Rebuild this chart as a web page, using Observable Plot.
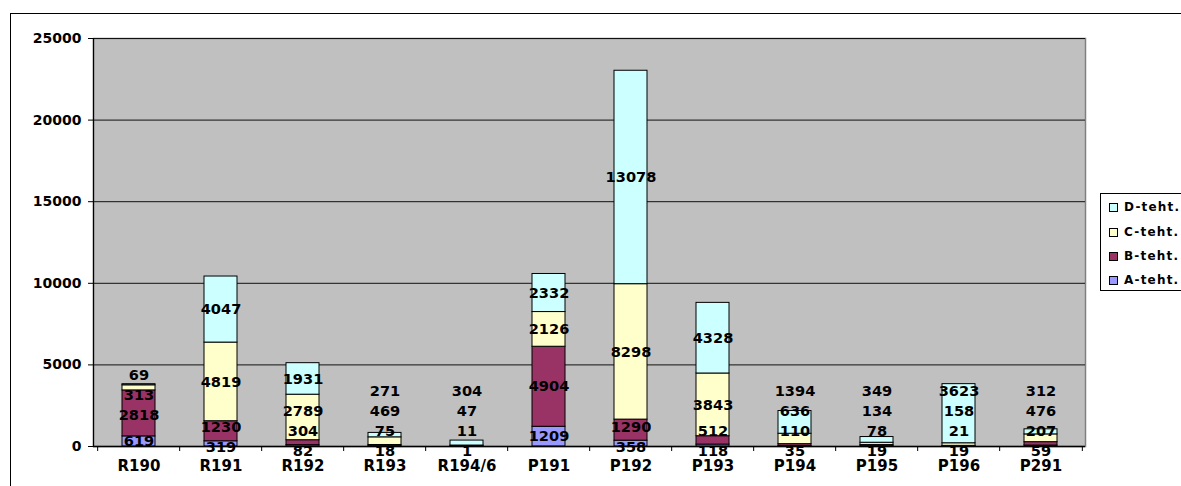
<!DOCTYPE html>
<html>
<head>
<meta charset="utf-8">
<script src="https://cdn.jsdelivr.net/npm/d3@7"></script>
<script src="https://cdn.jsdelivr.net/npm/@observablehq/plot@0.6"></script>
<style>
  html, body { margin: 0; padding: 0; background: #fff; overflow: hidden; width: 1181px; height: 486px; }
  #wrap { position: relative; width: 1181px; height: 486px; font-family: "DejaVu Sans", "Liberation Sans", Arial, sans-serif; }
  #border { position: absolute; left: 10px; top: 13px; width: 1220px; height: 540px; border: 1.5px solid #000; box-sizing: border-box; }
  #chart { position: absolute; left: 0; top: 0; }
  #legend { position: absolute; left: 1100px; top: 193px; width: 110px; height: 98px; border: 1px solid #000; background: #fff; box-sizing: border-box; }
  .item { position: absolute; left: 8px; height: 14px; display: flex; align-items: center; font-weight: bold; font-size: 12px; letter-spacing: 1.2px; color: #000; white-space: nowrap; }
  .sw { width: 7px; height: 7px; border: 1px solid #000; margin-right: 6px; flex: none; }
</style>
</head>
<body>
<div id="wrap">
  <div id="border"></div>
  <div id="chart"></div>
  <div id="legend"></div>
</div>
<script>
const categories = ["R190","R191","R192","R193","R194/6","P191","P192","P193","P194","P195","P196","P291"];
const seriesNames = ["A-teht.","B-teht.","C-teht.","D-teht."];
const seriesColors = ["#9999ff","#993366","#ffffcc","#ccffff"];
const aValues = [619, 319, 82, 18, 1, 1209, 358, 118, 35, 19, 19, 59];
const bValues = [2818, 1230, 304, 75, 11, 4904, 1290, 512, 110, 78, 21, 207];
const cValues = [313, 4819, 2789, 469, 47, 2126, 8298, 3843, 636, 134, 158, 476];
const dValues = [69, 4047, 1931, 271, 304, 2332, 13078, 4328, 1394, 349, 3623, 312];
const yTicks = [0, 5000, 10000, 15000, 20000, 25000];

const W = 1181, H = 486;
const mL = 93, mR = 96, mT = 38, mB = 40;
const yMax = 25000;
const seriesValues = [aValues, bValues, cValues, dValues];
const FONT = '"DejaVu Sans", "Liberation Sans", Arial, sans-serif';

// long table for bars
const rows = [];
categories.forEach((cat, i) => {
  seriesNames.forEach((s, j) => rows.push({cat, series: s, value: seriesValues[j][i]}));
});

// data labels: segment centers, then dodged apart so they don't overlap (like the moved Excel labels)
const pxPerUnit = (H - mT - mB) / yMax;
const gap = 20 / pxPerUnit;
const floor = -5 / pxPerUnit;
const labels = [];
categories.forEach((cat, i) => {
  let cum = 0;
  const centers = seriesValues.map(arr => { const v = arr[i]; const c = cum + v / 2; cum += v; return c; });
  const p = centers.slice();
  for (let it = 0; it < 200; it++) {
    for (let k = 0; k < p.length - 1; k++) {
      if (p[k + 1] - p[k] < gap) {
        const mid = (p[k] + p[k + 1]) / 2;
        p[k] = mid - gap / 2; p[k + 1] = mid + gap / 2;
      }
    }
    if (p[0] < floor) p[0] = floor;
  }
  for (let k = 0; k < p.length - 1; k++) if (p[k + 1] < p[k] + gap) p[k + 1] = p[k] + gap;
  seriesValues.forEach((arr, j) => labels.push({cat, value: arr[i], ly: p[j]}));
});

const step = (W - mL - mR) / categories.length;

const chart = Plot.plot({
  width: W, height: H,
  marginLeft: mL, marginRight: mR, marginTop: mT, marginBottom: mB,
  style: { fontFamily: FONT, background: "transparent", overflow: "visible", color: "#000" },
  x: { type: "band", domain: categories, paddingInner: 0.6, paddingOuter: 0.3, label: null },
  y: { domain: [0, yMax], label: null },
  color: { domain: seriesNames, range: seriesColors },
  marks: [
    Plot.frame({ fill: "#c0c0c0", stroke: "#808080", strokeWidth: 1.5 }),
    Plot.gridY({ ticks: yTicks.slice(1), stroke: "#111", strokeOpacity: 1, strokeWidth: 1 }),
    Plot.barY(rows, { x: "cat", y: "value", fill: "series", stroke: "#000", strokeWidth: 1 }),
    Plot.ruleY([0], { stroke: "#000", strokeWidth: 1.5 }),
    Plot.frame({ anchor: "left", stroke: "#000", strokeWidth: 1.2 }),
    Plot.axisY({ ticks: yTicks, tickSize: 5, tickPadding: 7, tickFormat: d3.format("d"), fontSize: 14, fontWeight: "bold", label: null, stroke: "#000", fill: "#000" }),
    Plot.axisX({ tickSize: 0, tickPadding: 14, fontSize: 15, fontWeight: "bold", label: null, fill: "#000" }),
    Plot.axisX({ tickSize: 5, fill: "none", stroke: "#000", dx: -step / 2, label: null }),
    Plot.axisX({ ticks: [categories[categories.length - 1]], tickSize: 5, fill: "none", stroke: "#000", dx: step / 2, label: null }),
    Plot.text(labels, { x: "cat", y: "ly", text: d => String(d.value), fontSize: 14.6, fontWeight: "bold", fill: "#000", clip: false })
  ]
});
document.getElementById("chart").appendChild(chart);

// legend (D on top, as in the reference)
const legend = document.getElementById("legend");
const legendTops = [6, 31, 55, 79];
seriesNames.slice().reverse().forEach((s, k) => {
  const item = document.createElement("div");
  item.className = "item";
  item.style.top = legendTops[k] + "px";
  const sw = document.createElement("span");
  sw.className = "sw";
  sw.style.background = seriesColors[seriesNames.length - 1 - k];
  const t = document.createElement("span");
  t.textContent = s;
  item.appendChild(sw); item.appendChild(t);
  legend.appendChild(item);
});
</script>
</body>
</html>
